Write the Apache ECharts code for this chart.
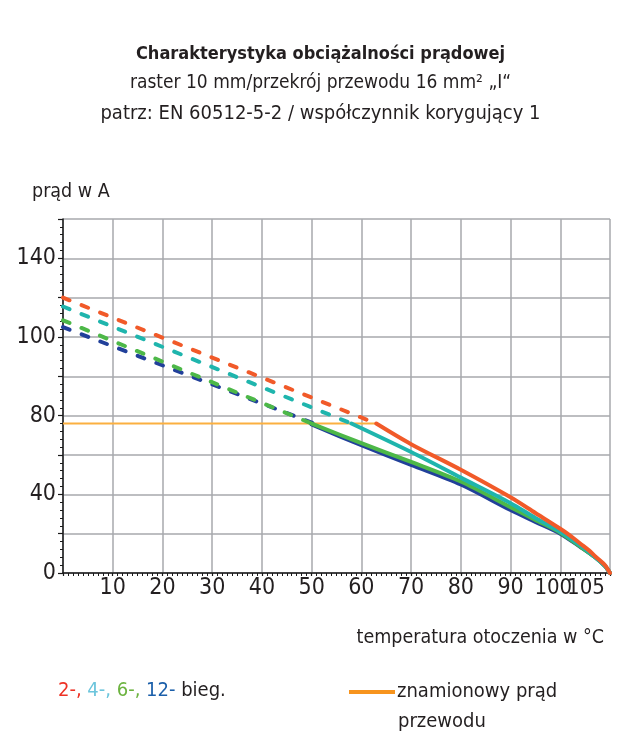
<!DOCTYPE html>
<html>
<head>
<meta charset="utf-8">
<script src="https://cdn.jsdelivr.net/npm/echarts@6/dist/echarts.min.js"></script>
<style>
html,body{margin:0;padding:0;background:#fff;}
#c{width:641px;height:751px;}
</style>
</head>
<body>
<div id="c"></div>
<script>
// ---- data (x in drawn temperature units, last gridline labelled 105) ----
const xTickValues = [0, 10, 20, 30, 40, 50, 60, 70, 80, 90, 100, 110];
const xTickTexts  = ['', '10', '20', '30', '40', '50', '60', '70', '80', '90', '100', '105'];
const yTickValues = [0, 40, 80, 120, 160];
const yTickTexts  = ['0', '40', '80', '100', '140'];

// 2-pole
const p2DashX = [0, 63];
const p2DashY = [140, 76];
const p2SolidX = [63, 70, 80, 90, 95, 100, 102, 104, 106, 107, 108, 109, 110];
const p2SolidY = [76, 65.5, 52.5, 38.5, 30.5, 22.5, 19, 15, 11, 8.5, 6.3, 4, 0];
// 4-pole
const p4DashX = [0, 58];
const p4DashY = [135.5, 76];
const p4SolidX = [58, 70, 80, 90, 95, 100, 104, 107, 109, 110];
const p4SolidY = [76, 61.5, 48.5, 35.5, 28, 21, 14, 8, 3.5, 0];
// 6-pole
const p6DashX = [0, 50];
const p6DashY = [128.5, 76];
const p6SolidX = [50, 60, 70, 80, 90, 95, 100, 104, 107, 109, 110];
const p6SolidY = [76, 66, 56.5, 46.5, 33.5, 27, 20.5, 13.5, 8, 3.5, 0];
// 12-pole
const p12DashX = [0, 50.5];
const p12DashY = [125, 76];
const p12SolidX = [50, 60, 70, 80, 90, 95, 100, 104, 107, 109, 110];
const p12SolidY = [75.5, 65, 55, 45, 32, 26, 20, 13.3, 8, 3.5, 0];
// rated conductor current
const ratedX = [0, 63];
const ratedY = [76, 76];

const FONT = '"Liberation Sans Narrow", "DejaVu Sans Condensed", "Roboto", sans-serif';
const zip = (xs, ys) => xs.map((x, i) => [x, ys[i]]);
const lastIdx = xTickValues.length - 1;

const colors = { p2: '#f15a29', p4: '#1fb5ad', p6: '#4db848', p12: '#21409a', rated: '#fbb040' };

function dashSeries(name, xs, ys, color) {
  return { name: name, type: 'line', data: zip(xs, ys), symbol: 'none', silent: true,
    lineStyle: { color: color, width: 4, type: [7, 13], cap: 'round' }, z: 3 };
}
function solidSeries(name, xs, ys, color) {
  return { name: name, type: 'line', data: zip(xs, ys), symbol: 'none', silent: true, smooth: 0.3,
    lineStyle: { color: color, width: 4, cap: 'round' }, z: 4 };
}

const chart = echarts.init(document.getElementById('c'), null, { renderer: 'canvas' });
chart.setOption({
  animation: false,
  backgroundColor: '#ffffff',
  textStyle: { fontFamily: FONT },
  title: [
    { text: 'Charakterystyka obciążalności prądowej', left: 'center', top: 40,
      textStyle: { fontFamily: FONT, fontSize: 18, fontWeight: 'bold', color: '#231f20' } },
    { text: 'raster 10 mm/przekrój przewodu 16 mm² „I“', left: 'center', top: 69,
      textStyle: { fontFamily: FONT, fontSize: 19, fontWeight: 'normal', color: '#231f20' } },
    { text: 'patrz: EN 60512-5-2 / współczynnik korygujący 1', left: 'center', top: 99,
      textStyle: { fontFamily: FONT, fontSize: 20, fontWeight: 'normal', color: '#231f20' } },
    { text: 'prąd w A', left: 27, top: 177,
      textStyle: { fontFamily: FONT, fontSize: 19.5, fontWeight: 'normal', color: '#231f20' } },
    { text: 'temperatura otoczenia w °C', right: 32, top: 623,
      textStyle: { fontFamily: FONT, fontSize: 19.5, fontWeight: 'normal', color: '#231f20' } },
    { text: '{r|2-,} {c|4-,} {g|6-,} {b|12-} bieg.', left: 53, top: 676,
      textStyle: { fontFamily: FONT, fontSize: 20, fontWeight: 'normal', color: '#231f20',
        rich: {
          r: { color: '#ee3124', fontSize: 20, fontFamily: FONT },
          c: { color: '#6cc5dc', fontSize: 20, fontFamily: FONT },
          g: { color: '#6cb33f', fontSize: 20, fontFamily: FONT },
          b: { color: '#1b5faa', fontSize: 20, fontFamily: FONT }
        } } },
    { text: 'przewodu', left: 393, top: 707,
      textStyle: { fontFamily: FONT, fontSize: 20, fontWeight: 'normal', color: '#231f20' } }
  ],
  legend: {
    left: 344, top: 677, icon: 'rect', itemWidth: 46, itemHeight: 4, itemGap: 0,
    data: [{ name: 'znamionowy prąd przewodu', itemStyle: { color: '#f7941d' } }],
    formatter: () => 'znamionowy prąd',
    textStyle: { fontFamily: FONT, fontSize: 20, color: '#231f20', padding: [0, 0, 0, -3] },
    selectedMode: false
  },
  grid: { left: 63, right: 31, top: 219, bottom: 178, containLabel: false },
  xAxis: [
    {
      type: 'value', min: 0, max: 110, interval: 10,
      axisLine: { show: true, onZero: false, lineStyle: { color: '#1a1a1a', width: 1.5 } },
      axisTick: { show: true, length: 3, lineStyle: { color: '#1a1a1a', width: 1.2 } },
      minorTick: { show: true, splitNumber: 10, length: 3, lineStyle: { color: '#1a1a1a', width: 1 } },
      splitLine: { show: true, lineStyle: { color: '#a7a9ac', width: 1.5 } },
      axisLabel: {
        margin: 4, color: '#231f20', fontFamily: FONT, fontSize: 23,
        showMaxLabel: false,
        formatter: v => {
          const i = xTickValues.indexOf(v);
          const t = (i >= 0 && i < lastIdx) ? xTickTexts[i] : '';
          if (t === '100') return '{a|' + t + '}';
          return t;
        },
        rich: {
          a: { fontFamily: FONT, fontSize: 22, color: '#231f20', padding: [0, 14, 0, 0] }
        }
      }
    },
    {
      // same scale, carries only the last tick label (105), which sits tight to "100"
      type: 'value', min: 0, max: 110, interval: 10, position: 'bottom',
      axisLine: { show: false }, axisTick: { show: false }, splitLine: { show: false },
      axisLabel: {
        margin: 4, color: '#231f20', fontFamily: FONT, fontSize: 23,
        showMaxLabel: true, showMinLabel: false,
        formatter: v => {
          const i = xTickValues.indexOf(v);
          return i === lastIdx ? '{b|' + xTickTexts[i] + '}' : '';
        },
        rich: {
          b: { fontFamily: FONT, fontSize: 22, color: '#231f20', padding: [0, 48, 0, 0] }
        }
      }
    }
  ],
  yAxis: {
    type: 'value', min: 0, max: 180, interval: 20,
    axisLine: { show: true, lineStyle: { color: '#1a1a1a', width: 1.5 } },
    axisTick: { show: true, length: 5, lineStyle: { color: '#1a1a1a', width: 1.2 } },
    minorTick: { show: true, splitNumber: 5, length: 3, lineStyle: { color: '#1a1a1a', width: 1 } },
    splitLine: { show: true, lineStyle: { color: '#a7a9ac', width: 1.5 } },
    axisLabel: {
      margin: 7, color: '#231f20', fontFamily: FONT, fontSize: 23,
      formatter: v => {
        const i = yTickValues.indexOf(v);
        return i >= 0 ? yTickTexts[i] : '';
      }
    }
  },
  series: [
    { name: 'znamionowy prąd przewodu', type: 'line', data: zip(ratedX, ratedY), symbol: 'none', silent: true,
      lineStyle: { color: colors.rated, width: 2 }, z: 2 },
    dashSeries('12-bieg.', p12DashX, p12DashY, colors.p12),
    dashSeries('6-bieg.', p6DashX, p6DashY, colors.p6),
    dashSeries('4-bieg.', p4DashX, p4DashY, colors.p4),
    dashSeries('2-bieg.', p2DashX, p2DashY, colors.p2),
    solidSeries('12-bieg. ', p12SolidX, p12SolidY, colors.p12),
    solidSeries('6-bieg. ', p6SolidX, p6SolidY, colors.p6),
    solidSeries('4-bieg. ', p4SolidX, p4SolidY, colors.p4),
    solidSeries('2-bieg. ', p2SolidX, p2SolidY, colors.p2)
  ]
});
</script>
</body>
</html>
